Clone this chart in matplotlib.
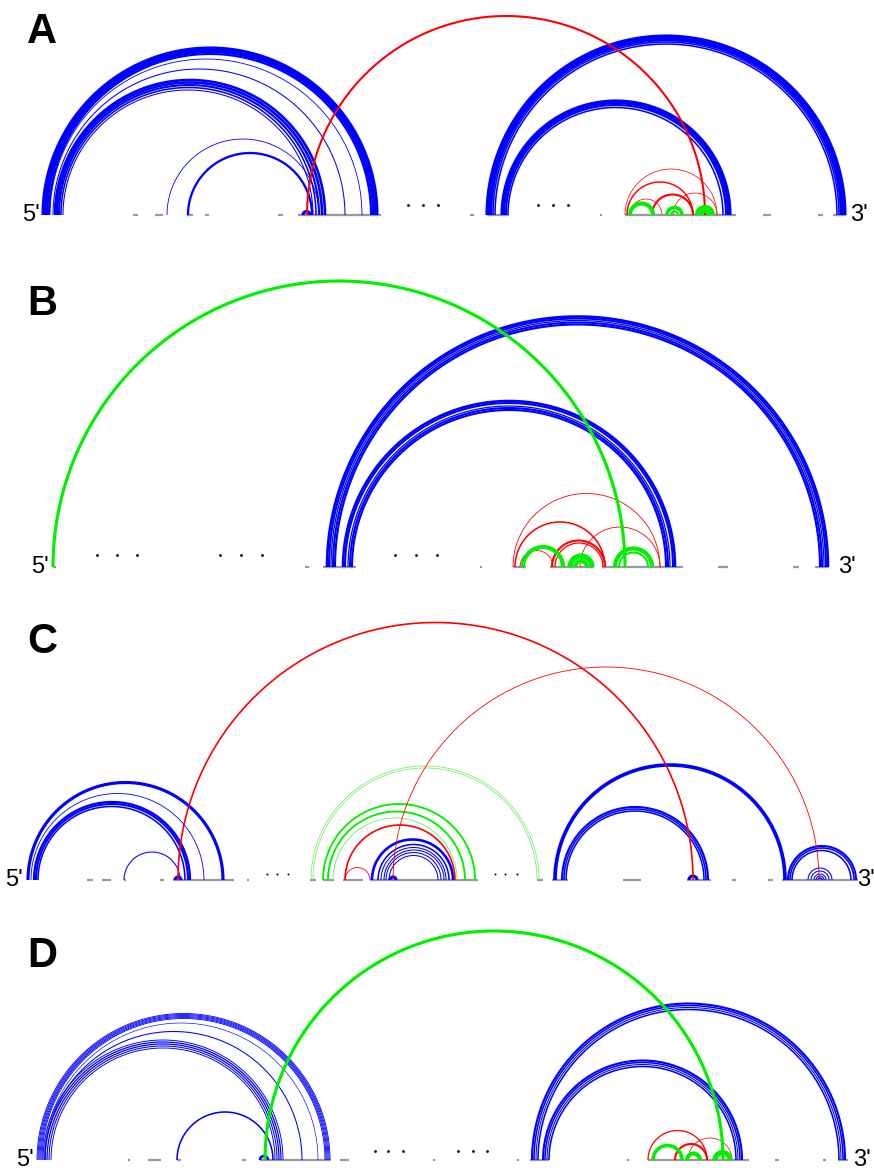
import numpy as np
import matplotlib.pyplot as plt

plt.rcParams['font.family'] = ['Liberation Sans', 'DejaVu Sans']

BLUE = '#0000ff'
RED = '#ff0000'
GREEN = '#00f000'
PALE = '#66ee66'
GRAY = '#9a9a9a'

# arcs: (5' end, 3' end, weight) in sequence position units
a_blue = [(43, 377, 3), (45, 375, 3), (47, 373, 2.5), (49, 371, 2), (50, 362, 0.8),
          (53, 345, 1), (55, 325, 2.5), (57, 322, 2.5), (59, 319, 2), (61, 316, 1.5),
          (63, 313, 1), (167, 319, 0.8), (188, 312, 2.2), (303, 310, 3),
          (487, 845, 3), (489, 843, 3), (491, 841, 2.5), (493, 839, 1.5), (495, 837, 1.5),
          (502, 730, 3), (504, 728, 2.5), (506, 726, 2), (508, 723, 1.5)]
a_red = [(307, 705, 2), (625, 717, 0.7), (627, 693, 1.4), (652, 693, 2), (673, 717, 0.7),
         (630, 662, 0.7)]
a_green = [(630, 653, 4), (667, 682, 3.5), (671, 678, 2), (697, 713, 4), (701, 709, 4)]
a_gray = [(133, 137), (155, 162), (187, 192), (205, 208), (278, 282), (298, 380),
          (470, 473), (487, 508), (600, 601), (625, 735), (763, 770), (818, 822), (833, 845)]
a_dots = [408, 423, 438, 538, 553, 568]

b_blue = [(327, 828, 2.5), (329, 826, 2), (331, 824, 1.2), (333, 822, 2), (335, 820, 2),
          (343, 675, 2.5), (345, 673, 2), (348, 670, 1.2), (350, 668, 2), (352, 666, 2)]
b_red = [(513, 660, 0.8), (515, 605, 1.5), (552, 605, 2), (555, 603, 1.2),
         (580, 660, 0.8), (520, 553, 0.8)]
b_green = [(53, 625, 3), (523, 563, 4), (570, 592, 5), (575, 587, 4),
           (615, 652, 4), (619, 648, 2)]
b_gray = [(53, 55), (305, 308), (323, 355), (480, 481), (513, 525), (550, 593),
          (602, 682), (718, 727), (793, 798), (815, 828)]
b_dots = [97, 117, 137, 220, 241, 262, 395, 416, 437]

c_blue = [(28, 223, 3), (31, 204, 0.8), (34, 190, 2.2), (36, 188, 2), (38, 185, 1.5),
          (124, 180, 1), (175, 181, 3),
          (372, 453, 2.5), (378, 449, 1.5), (381, 446, 1), (384, 444, 1), (386, 441, 1),
          (389, 438, 1), (390, 396, 3),
          (555, 785, 3.5), (562, 708, 2), (564, 706, 1.5), (566, 704, 1.5), (689, 697, 3),
          (788, 856, 2), (790, 854, 1.5), (792, 851, 1.5), (808, 832, 1), (811, 829, 1),
          (814, 826, 1), (816, 824, 1), (818, 822, 1.5)]
c_red = [(178, 693, 1.6), (393, 819, 0.8), (345, 455, 1.6), (345, 370, 0.8)]
c_green = [(323, 475, 1.8), (328, 465, 1.8)]
c_pale = [(311, 539, 0.7), (313, 537, 0.7), (333, 457, 0.8)]
c_gray = [(87, 92), (102, 110), (124, 125), (160, 163), (173, 233), (247, 248), (310, 315),
          (323, 333), (343, 362), (370, 477), (537, 542), (552, 567), (623, 640),
          (687, 710), (732, 735), (768, 772), (782, 857)]
c_dots = [267, 277, 288, 495, 505, 517]

d_blue = [(37, 330, 0.8), (38, 329, 0.8), (39, 328, 0.8), (40, 327, 0.8), (41, 326, 0.8),
          (42, 325, 0.8), (44, 318, 0.6), (45, 302, 1),
          (43, 283, 0.9), (45, 281, 1.2), (47, 279, 1.2), (49, 277, 1), (51, 275, 0.9),
          (177, 273, 1.5), (260, 268, 2.5),
          (532, 845, 2), (534, 843, 1.5), (536, 841, 1), (538, 839, 1.5),
          (543, 742, 2), (545, 740, 1.5), (547, 738, 1), (549, 736, 1.5)]
d_red = [(648, 707, 1.2), (675, 707, 2), (688, 732, 0.7)]
d_green = [(265, 723, 3), (653, 682, 3.5), (687, 700, 4), (715, 730, 5)]
d_gray = [(128, 129), (148, 160), (177, 180), (242, 245), (260, 330), (340, 348), (433, 434),
          (517, 518), (530, 548), (627, 628), (648, 748), (775, 778), (823, 825), (838, 847)]
d_dots = [375, 388, 403, 458, 473, 487]

W, H = 874, 1172
fig = plt.figure(figsize=(W / 100, H / 100), dpi=100)


def draw_arcs(ax, arcs, color, z=2):
    t = np.linspace(0, np.pi, 240)
    for a, b, w in arcs:
        c, r = (a + b) / 2, (b - a) / 2
        ax.plot(c + r * np.cos(t), r * np.sin(t), color=color, lw=w * 0.75,
                solid_capstyle='butt', zorder=z)


# panel: letter, top row, baseline row, arcs, gray segments, dots, dot height, label x
panels = [
    ('A', 0, 215, [(a_blue, BLUE), (a_red, RED), (a_green, GREEN)], a_gray, a_dots, 10, 40, 850),
    ('B', 262, 567, [(b_blue, BLUE), (b_red, RED), (b_green, GREEN)], b_gray, b_dots, 12, 49, 838),
    ('C', 590, 880, [(c_pale, PALE), (c_green, GREEN), (c_blue, BLUE), (c_red, RED)],
     c_gray, c_dots, 6, 23, 857),
    ('D', 895, 1160, [(d_blue, BLUE), (d_red, RED), (d_green, GREEN)], d_gray, d_dots, 9, 34, 853),
]

for letter, top, base, groups, gray, dots, doty, x5, x3 in panels:
    bottom = base + 14
    ax = fig.add_axes([0, 1 - bottom / H, 1, (bottom - top) / H])
    ax.set_xlim(0, W)
    ax.set_ylim(-14, base - top)
    ax.axis('off')
    for s, e in gray:
        ax.plot([s, e + 1], [0, 0], color=GRAY, lw=1.6, solid_capstyle='butt', zorder=1)
    for arcs, col in groups:
        draw_arcs(ax, arcs, col)
    ax.plot(dots, [doty] * len(dots), 'o', color='black', ms=2.0 if letter != 'C' else 1.4,
            mew=0, zorder=3)
    ax.text(x5, 0, "5'", ha='right', va='center', fontsize=17)
    ax.text(x3, 0, "3'", ha='left', va='center', fontsize=17, clip_on=False)

letter_pos = {'A': 43, 'B': 315, 'C': 653, 'D': 967}
for k, yb in letter_pos.items():
    fig.text(27 / W, 1 - yb / H, k, fontsize=30, fontweight='bold', va='baseline')

fig.savefig('out.png', dpi=100)
